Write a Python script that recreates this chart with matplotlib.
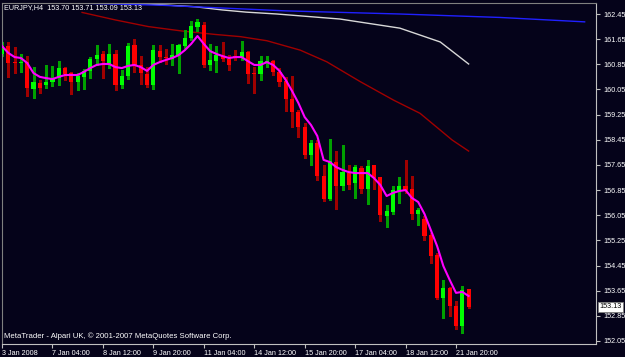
import matplotlib
matplotlib.use("Agg")
import matplotlib.pyplot as plt
import numpy as np

BG = "#05031a"
BULL = "#00ff00"
BEAR = "#ff0000"
BULL_WICK = "#00a000"
BEAR_WICK = "#a00000"

TITLE = "EURJPY,H4  153.70 153.71 153.09 153.13"
FOOTER = "MetaTrader - Alpari UK, \u00a9 2001-2007 MetaQuotes Software Corp."

# H4 candles, 3 Jan 20:00 .. 22 Jan 04:00
opens = [161.18, 161.43, 160.91, 160.88, 160.91, 160.06, 160.27, 160.19, 160.30, 160.40,
         160.72, 160.56, 160.30, 160.46, 160.64, 161.02, 161.18, 160.86, 161.19, 160.19,
         160.48, 161.45, 160.83, 160.54, 160.19, 161.26, 161.08, 161.02, 161.16, 161.43,
         161.70, 162.05, 162.10, 160.83, 160.94, 161.13, 161.03, 161.10, 161.07, 161.23,
         160.57, 160.54, 160.92, 160.94, 160.62, 160.32, 159.76, 159.33, 158.84, 157.97,
         158.36, 157.30, 156.57, 157.73, 156.99, 157.38, 157.06, 157.54, 156.87, 157.65,
         157.25, 156.04, 156.14, 156.82, 156.99, 156.87, 156.10, 155.93, 155.42, 154.78,
         153.43, 153.72, 153.15, 152.53, 153.70]
highs = [161.56, 161.56, 161.40, 161.18, 161.10, 160.78, 160.35, 160.83, 160.80, 160.95,
         160.78, 160.61, 160.57, 160.70, 161.07, 161.45, 161.26, 161.50, 161.31, 160.67,
         161.54, 161.65, 161.11, 160.78, 161.46, 161.46, 161.34, 161.50, 161.50, 161.94,
         162.23, 162.29, 162.20, 161.50, 161.42, 161.56, 161.15, 161.31, 161.58, 161.26,
         160.76, 161.13, 161.10, 160.99, 160.72, 160.45, 160.48, 159.40, 158.98, 158.44,
         158.44, 157.65, 158.47, 158.08, 158.28, 157.65, 157.65, 157.60, 157.82, 157.65,
         157.28, 156.38, 156.98, 157.25, 157.81, 157.30, 156.28, 156.02, 155.48, 154.85,
         153.99, 153.78, 153.31, 153.81, 153.71]
lows = [161.11, 160.45, 160.57, 160.61, 159.84, 159.78, 159.94, 160.10, 160.16, 160.18,
        160.35, 159.91, 160.03, 160.06, 160.43, 160.83, 160.43, 160.73, 160.03, 160.10,
        160.38, 160.62, 160.22, 160.14, 160.06, 160.92, 160.86, 160.83, 160.57, 161.37,
        161.62, 161.91, 160.76, 160.67, 160.62, 160.95, 160.67, 160.99, 160.99, 160.26,
        159.94, 160.35, 160.78, 160.51, 160.16, 159.36, 158.86, 158.54, 157.87, 157.65,
        157.17, 156.49, 156.52, 156.25, 156.85, 156.88, 156.61, 156.76, 156.41, 156.88,
        155.85, 155.68, 156.09, 156.45, 156.76, 155.93, 155.74, 155.25, 154.53, 153.39,
        152.78, 152.83, 152.43, 152.30, 153.09]
closes = [161.43, 160.88, 160.88, 160.91, 160.10, 160.29, 160.11, 160.30, 160.40, 160.72,
          160.53, 160.30, 160.48, 160.64, 161.02, 161.15, 160.94, 161.19, 160.19, 160.48,
          161.42, 160.83, 160.56, 160.19, 161.31, 161.08, 161.05, 161.16, 161.45, 161.70,
          162.08, 162.18, 160.83, 160.99, 161.15, 161.02, 160.83, 161.07, 161.23, 160.54,
          160.54, 160.97, 160.94, 160.62, 160.30, 159.75, 159.32, 158.86, 157.97, 158.36,
          157.30, 156.57, 157.76, 156.99, 157.41, 157.01, 157.57, 156.87, 157.62, 157.22,
          156.06, 156.17, 156.85, 156.99, 156.85, 156.10, 156.20, 155.40, 154.75, 153.43,
          153.75, 153.15, 152.51, 153.67, 153.13]

# fast moving average (magenta), one value per bar
ma_fast = [161.43, 161.21, 161.08, 161.05, 160.89, 160.57, 160.45, 160.41, 160.38, 160.45,
           160.51, 160.51, 160.51, 160.61, 160.73, 160.83, 160.86, 160.86, 160.76, 160.73,
           160.80, 160.83, 160.76, 160.64, 160.83, 160.92, 160.99, 161.05, 161.14, 161.30,
           161.50, 161.75, 161.50, 161.27, 161.18, 161.11, 161.05, 161.08, 161.08, 160.95,
           160.83, 160.83, 160.92, 160.83, 160.64, 160.35, 160.00, 159.62, 159.17, 158.92,
           158.57, 157.81, 157.74, 157.58, 157.49, 157.42, 157.39, 157.39, 157.39, 157.23,
           157.01, 156.66, 156.76, 156.82, 156.85, 156.60, 156.47, 156.09, 155.58, 155.07,
           154.43, 153.99, 153.58, 153.61, 153.48]

# slow moving averages, sampled along each line (bar position, price)
red_x = [12.7, 18.0, 23.2, 28.5, 33.8, 37.8, 42.0, 47.3, 51.5, 56.8, 62.1, 66.3, 71.4, 74.0]
red_y = [162.50, 162.26, 162.05, 161.91, 161.80, 161.73, 161.60, 161.30, 160.93, 160.30,
         159.71, 159.29, 158.44, 158.09]
white_x = [19.6, 30.7, 34.9, 38.7, 43.6, 53.6, 63.1, 69.5, 74.0]
white_y = [162.81, 162.68, 162.58, 162.51, 162.45, 162.29, 162.00, 161.56, 160.86]
blue_x = [7.7, 25.1, 44.9, 63.1, 79.0, 92.4]
blue_y = [162.82, 162.73, 162.55, 162.45, 162.34, 162.20]

price_ticks = [162.45, 161.65, 160.85, 160.05, 159.25, 158.45, 157.65,
               156.85, 156.05, 155.25, 154.45, 153.65, 152.85, 152.05]
date_ticks = [0, 8, 16, 24, 32, 40, 48, 56, 64, 72]
date_labels = ["3 Jan 2008", "7 Jan 04:00", "8 Jan 12:00", "9 Jan 20:00", "11 Jan 04:00",
               "14 Jan 12:00", "15 Jan 20:00", "17 Jan 04:00", "18 Jan 12:00", "21 Jan 20:00"]

W, H = 625, 357
plt.rcParams["font.family"] = ["Liberation Sans", "DejaVu Sans"]
fig = plt.figure(figsize=(W / 100, H / 100), dpi=100, facecolor=BG)
ax = fig.add_axes([2 / W, (H - 344) / H, 594 / W, 341 / H], facecolor=BG)

o = np.asarray(opens)
hi = np.asarray(highs)
lo = np.asarray(lows)
c = np.asarray(closes)
xs = np.arange(len(o))
up = c >= o

ax.vlines(xs, lo, hi, colors=np.where(up, BULL_WICK, BEAR_WICK), linewidth=1.0,
          antialiased=False, zorder=2)
body_h = np.maximum(np.abs(c - o), 0.035)
ax.bar(xs, body_h, bottom=np.minimum(o, c), width=0.66, color=np.where(up, BULL, BEAR),
       linewidth=0, antialiased=False, zorder=3)

ax.plot(xs, ma_fast, color="#ff00ff", linewidth=1.5, zorder=4)
ax.plot(red_x, red_y, color="#a00000", linewidth=1.0, zorder=1)
ax.plot(white_x, white_y, color="#d8d8d8", linewidth=1.0, zorder=1)
ax.plot(blue_x, blue_y, color="#2020ff", linewidth=1.0, zorder=1)

ax.set_xlim(0.08, 94.2)
ax.set_ylim(151.953, 162.80)

for side in ["left", "top"]:
    ax.spines[side].set_color("#808080")
for side in ["right", "bottom"]:
    ax.spines[side].set_color("#c0c0c0")

ax.yaxis.tick_right()
ax.set_yticks(price_ticks)
ax.set_yticklabels([f"{p:.2f}" for p in price_ticks])
ax.tick_params(axis="y", length=3, width=0.8, color="#c0c0c0", labelcolor="white",
               labelsize=5.2, pad=2)
ax.set_xticks(date_ticks)
ax.set_xticklabels(date_labels)
ax.tick_params(axis="x", length=3, width=0.8, color="#c0c0c0", labelcolor="white",
               labelsize=5.2, pad=1.5)
for lbl in ax.get_xticklabels():
    lbl.set_horizontalalignment("left")

fig.text(4 / W, 1 - 7.5 / H, TITLE, color="white", fontsize=5.2, ha="left", va="center")
fig.text(4 / W, 1 - 336.5 / H, FOOTER, color="white", fontsize=5.6, ha="left", va="center")

last = closes[-1]
ax.annotate(f"{last:.2f}", xy=(1.0, last), xycoords=("axes fraction", "data"),
            xytext=(2.5, 0), textcoords="offset points", ha="left", va="center",
            fontsize=5.2, color="black",
            bbox=dict(boxstyle="square,pad=0.15", fc="white", ec="#808080", lw=0.6))

fig.savefig("out.png", dpi=100, facecolor=BG)
